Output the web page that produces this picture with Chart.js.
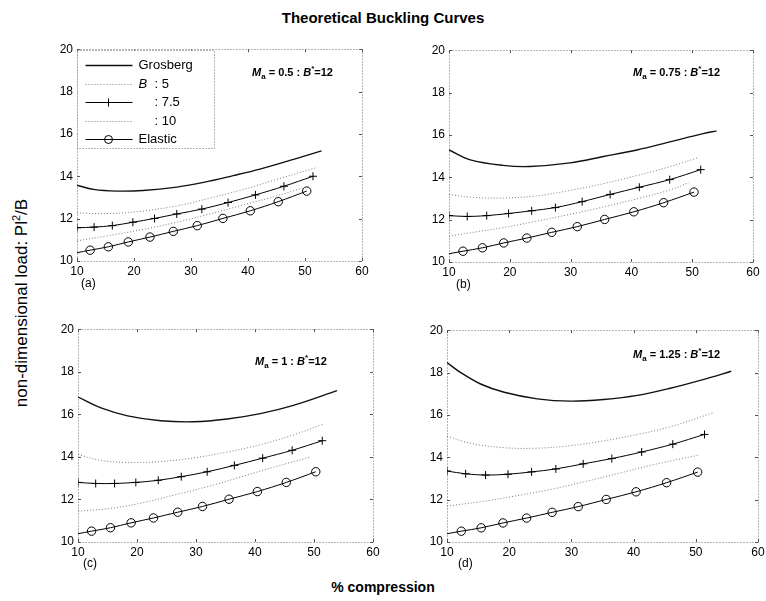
<!DOCTYPE html>
<html><head><meta charset="utf-8">
<script src="https://cdn.jsdelivr.net/npm/chart.js@4.4.1/dist/chart.umd.min.js"></script>
<style>
html,body{margin:0;padding:0;background:#fff}
body{width:766px;height:601px;position:relative;overflow:hidden;font-family:"Liberation Sans",Arial,Helvetica,sans-serif;color:#000}
canvas{position:absolute}
.txt{position:absolute;white-space:nowrap;line-height:1}
#title{left:0;width:766px;top:10px;text-align:center;font-size:15px;font-weight:bold}
#xtitle{left:0;width:766px;top:580px;text-align:center;font-size:14px;font-weight:bold}
#ytitle{left:-128px;width:300px;top:294px;height:18px;text-align:center;font-size:17px;transform:rotate(-90deg)}
#ytitle sup{font-size:11px;vertical-align:7px;line-height:0}
.ann{font-size:11px;font-weight:bold}
.ann sub{font-size:8px;vertical-align:-3px;line-height:0}
.ann sup{font-size:8px;vertical-align:5px;line-height:0}
.plab{font-size:12px}
</style></head>
<body>
<div id="title" class="txt">Theoretical Buckling Curves</div>
<div id="xtitle" class="txt">% compression</div>
<div id="ytitle" class="txt">non-dimensional load: Pl<sup>2</sup>/B</div>
<script>
// ---------- data ----------
const xTicks = [10, 20, 30, 40, 50, 60];
const yTicks = [10, 12, 14, 16, 18, 20];
const panelLabels = ['(a)', '(b)', '(c)', '(d)'];
const maValues = ['0.5', '0.75', '1', '1.25'];
const bStarValue = '12';
const seriesNames = ['Grosberg', '5', '7.5', '10', 'Elastic'];

// Elastic curve (same in all panels), first point has no marker
const elasticX = [10, 12.3, 15.5, 19.0, 22.8, 26.9, 31.1, 35.6, 40.4, 45.3, 50.3];
const elasticY = [10.39, 10.51, 10.67, 10.90, 11.13, 11.40, 11.67, 12.01, 12.37, 12.80, 13.30];

// B = 7.5 marker positions (shared x)
const b75X = [10, 13.0, 16.2, 19.8, 23.6, 27.5, 31.9, 36.5, 41.3, 46.3, 51.4];

// Panel (a) Ma = 0.5
const grosAX = [10, 12.9, 17.0, 21.6, 27.5, 32.2, 37.4, 42.1, 48.0, 52.9];
const grosAY = [13.58, 13.38, 13.30, 13.33, 13.49, 13.71, 14.03, 14.34, 14.80, 15.20];
const b5AX = [10, 15.8, 21.6, 27.5, 33.3, 39.2, 45.0, 51.8];
const b5AY = [12.27, 12.24, 12.36, 12.60, 12.97, 13.38, 13.85, 14.39];
const b75AY = [11.57, 11.60, 11.67, 11.83, 12.01, 12.22, 12.45, 12.76, 13.12, 13.53, 14.00];
const b10AX = [10, 15.8, 21.6, 27.5, 33.3, 39.2, 45.0, 50.6];
const b10AY = [10.95, 11.21, 11.49, 11.83, 12.22, 12.65, 13.07, 13.53];

// Panel (b) Ma = 0.75
const grosBX = [10, 13.5, 18.9, 23.3, 29.9, 35.4, 40.9, 46.3, 51.8, 54.0];
const grosBY = [15.29, 14.82, 14.56, 14.51, 14.68, 14.98, 15.29, 15.67, 16.06, 16.19];
const b5BX = [10, 13.5, 18.9, 24.4, 29.9, 35.4, 40.9, 46.3, 51.0];
const b5BY = [13.19, 13.06, 13.02, 13.12, 13.38, 13.70, 14.08, 14.50, 14.93];
const b75BY = [12.19, 12.15, 12.19, 12.29, 12.42, 12.57, 12.85, 13.19, 13.53, 13.89, 14.36];
const b10BX = [10, 13.5, 18.9, 24.4, 29.9, 35.4, 40.9, 46.3, 49.5];
const b10BY = [11.22, 11.38, 11.62, 11.93, 12.25, 12.60, 12.98, 13.40, 13.75];

// Panel (c) Ma = 1
const grosCX = [10, 13.9, 18.4, 24.0, 29.6, 35.3, 40.9, 46.5, 53.9];
const grosCY = [16.81, 16.30, 15.93, 15.70, 15.65, 15.78, 16.03, 16.42, 17.11];
const b5CX = [10, 13.9, 18.4, 24.0, 29.6, 35.3, 40.9, 46.5, 51.6];
const b5CY = [14.11, 13.83, 13.74, 13.78, 13.95, 14.23, 14.57, 15.03, 15.54];
const b75CY = [12.80, 12.75, 12.75, 12.80, 12.90, 13.07, 13.30, 13.60, 13.94, 14.31, 14.76];
const b10CX = [10, 15.6, 21.2, 26.8, 32.5, 38.1, 43.7, 49.4];
const b10CY = [11.45, 11.58, 11.86, 12.24, 12.64, 13.10, 13.56, 13.99];

// Panel (d) Ma = 1.25
const grosDX = [10, 12.2, 15.4, 19.2, 24.5, 29.9, 35.2, 40.6, 45.9, 51.3, 55.7];
const grosDY = [18.47, 18.00, 17.46, 17.07, 16.76, 16.65, 16.73, 16.92, 17.26, 17.68, 18.06];
const b5DX = [10, 13.8, 19.2, 24.6, 29.9, 35.3, 40.7, 46.0, 52.7];
const b5DY = [15.00, 14.66, 14.45, 14.43, 14.55, 14.78, 15.08, 15.45, 16.09];
const b75DY = [13.35, 13.22, 13.16, 13.20, 13.31, 13.45, 13.69, 13.94, 14.25, 14.62, 15.08];
const b10DX = [10, 16.5, 21.9, 27.3, 32.6, 38.0, 43.3, 50.3];
const b10DY = [11.69, 11.95, 12.22, 12.52, 12.88, 13.27, 13.66, 14.09];

// ---------- layout (positions / styles only) ----------
const FONT = '"Liberation Sans", Arial, Helvetica, sans-serif';
const YW = 34, XH = 22, PT = 8, PR = 10;
const geoms = [
  {L: 77, R: 362, T: 46, B: 261, annX: 252, annY: 67, labX: 90, labY: 277},
  {L: 449, R: 753, T: 47, B: 262, annX: 633, annY: 67, labX: 465, labY: 278},
  {L: 78, R: 373, T: 326, B: 542, annX: 255, annY: 356, labX: 92, labY: 557},
  {L: 447, R: 758, T: 327, B: 542, annX: 633, annY: 349, labX: 467, labY: 557}
];

const panels = [
  {gx: grosAX, gy: grosAY, b5x: b5AX, b5y: b5AY, b75y: b75AY, b10x: b10AX, b10y: b10AY},
  {gx: grosBX, gy: grosBY, b5x: b5BX, b5y: b5BY, b75y: b75BY, b10x: b10BX, b10y: b10BY},
  {gx: grosCX, gy: grosCY, b5x: b5CX, b5y: b5CY, b75y: b75CY, b10x: b10CX, b10y: b10CY},
  {gx: grosDX, gy: grosDY, b5x: b5DX, b5y: b5DY, b75y: b75DY, b10x: b10DX, b10y: b10DY}
];

const pts = (xs, ys) => xs.map((x, i) => ({x: x, y: ys[i]}));

const styles = {
  gros: {borderColor: '#111', borderWidth: 1.4, pointRadius: 0},
  dot: {borderColor: '#7a7a7a', borderWidth: 1, borderDash: [1, 2], pointRadius: 0},
  plus: {borderColor: '#000', borderWidth: 1, pointStyle: 'cross', pointRadius: 4, pointBorderWidth: 1, pointBorderColor: '#000'},
  circ: {borderColor: '#000', borderWidth: 1, pointStyle: 'circle', pointBorderWidth: 1, pointBorderColor: '#000', pointBackgroundColor: 'rgba(0,0,0,0)'}
};

const framePlugin = {
  id: 'frame',
  beforeDatasetsDraw(chart) {
    const {ctx, chartArea: a, scales} = chart;
    ctx.save();
    ctx.strokeStyle = '#6a6a6a';
    ctx.lineWidth = 1;
    ctx.setLineDash([1, 2]);
    ctx.strokeRect(Math.round(a.left) + 0.5, Math.round(a.top) + 0.5, Math.round(a.right - a.left), Math.round(a.bottom - a.top));
    ctx.setLineDash([]);
    ctx.strokeStyle = '#555';
    xTicks.forEach(v => {
      const px = Math.round(scales.x.getPixelForValue(v)) + 0.5;
      ctx.beginPath(); ctx.moveTo(px, a.bottom); ctx.lineTo(px, a.bottom - 3);
      ctx.moveTo(px, a.top); ctx.lineTo(px, a.top + 3); ctx.stroke();
    });
    yTicks.forEach(v => {
      const py = Math.round(scales.y.getPixelForValue(v)) + 0.5;
      ctx.beginPath(); ctx.moveTo(a.left, py); ctx.lineTo(a.left + 3, py);
      ctx.moveTo(a.right, py); ctx.lineTo(a.right - 3, py); ctx.stroke();
    });
    ctx.restore();
  }
};

const legendPlugin = {
  id: 'boxLegend',
  afterDraw(chart, args, opts) {
    if (!opts || !opts.show) return;
    const {ctx, chartArea: a} = chart;
    const x0 = Math.round(a.left) + 0.5, y0 = Math.round(a.top) + 1.5;
    ctx.save();
    ctx.fillStyle = '#fff';
    ctx.fillRect(x0, y0, 137, 98);
    ctx.strokeStyle = '#6a6a6a'; ctx.lineWidth = 1; ctx.setLineDash([1, 2]);
    ctx.strokeRect(x0, y0, 137, 98);
    const rows = [14, 33, 51, 70, 88];
    const kinds = ['gros', 'dot', 'plus', 'dot', 'circ'];
    rows.forEach((dy, i) => {
      const y = Math.round(y0 + dy) + 0.5;
      const st = styles[kinds[i]];
      ctx.setLineDash(st.borderDash || []);
      ctx.strokeStyle = st.borderColor; ctx.lineWidth = st.borderWidth;
      ctx.beginPath(); ctx.moveTo(x0 + 8, y); ctx.lineTo(x0 + 55, y); ctx.stroke();
      ctx.setLineDash([]);
      ctx.strokeStyle = '#000'; ctx.lineWidth = 1;
      if (kinds[i] === 'plus') {
        ctx.beginPath(); ctx.moveTo(x0 + 31 - 4, y); ctx.lineTo(x0 + 31 + 4, y);
        ctx.moveTo(x0 + 31, y - 4); ctx.lineTo(x0 + 31, y + 4); ctx.stroke();
      } else if (kinds[i] === 'circ') {
        ctx.beginPath(); ctx.arc(x0 + 31, y, 4, 0, Math.PI * 2); ctx.stroke();
      }
      ctx.fillStyle = '#000';
      ctx.textBaseline = 'middle';
      ctx.font = '13px ' + FONT;
      if (i === 0 || i === 4) {
        ctx.fillText(seriesNames[i], x0 + 61, y);
      } else {
        if (i === 1) { ctx.font = 'italic 13px ' + FONT; ctx.fillText('B', x0 + 61, y); ctx.font = '13px ' + FONT; }
        ctx.fillText(': ' + seriesNames[i], x0 + 77, y);
      }
    });
    ctx.restore();
  }
};

geoms.forEach((g, k) => {
  const p = panels[k];
  const cv = document.createElement('canvas');
  const w = g.R - g.L + YW + PR, h = g.B - g.T + PT + XH;
  cv.width = w; cv.height = h;
  cv.style.left = (g.L - YW) + 'px'; cv.style.top = (g.T - PT) + 'px';
  cv.style.width = w + 'px'; cv.style.height = h + 'px';
  document.body.appendChild(cv);

  const datasets = [
    Object.assign({label: seriesNames[0], data: pts(p.gx, p.gy)}, styles.gros),
    Object.assign({label: seriesNames[1], data: pts(p.b5x, p.b5y)}, styles.dot),
    Object.assign({label: seriesNames[2], data: pts(b75X, p.b75y)}, styles.plus),
    Object.assign({label: seriesNames[3], data: pts(p.b10x, p.b10y)}, styles.dot),
    Object.assign({label: seriesNames[4], data: pts(elasticX, elasticY),
      pointRadius: c => (c.dataIndex === 0 ? 0 : 4.2)}, styles.circ)
  ];

  new Chart(cv, {
    type: 'line',
    data: {datasets: datasets},
    plugins: [framePlugin, legendPlugin],
    options: {
      responsive: false, animation: false, devicePixelRatio: 1,
      layout: {padding: {top: PT, right: PR, left: 0, bottom: 0}},
      datasets: {line: {tension: 0.35, fill: false}},
      plugins: {legend: {display: false}, tooltip: {enabled: false}, title: {display: false},
        boxLegend: {show: k === 0}},
      scales: {
        x: {type: 'linear', min: xTicks[0], max: xTicks[xTicks.length - 1],
          afterBuildTicks: s => { s.ticks = xTicks.map(v => ({value: v})); },
          ticks: {color: '#000', font: {size: 12, family: FONT}, padding: 3, maxRotation: 0, autoSkip: false},
          grid: {display: false, drawTicks: false}, border: {display: false},
          afterFit: s => { s.height = XH; }},
        y: {type: 'linear', min: yTicks[0], max: yTicks[yTicks.length - 1],
          afterBuildTicks: s => { s.ticks = yTicks.map(v => ({value: v})); },
          ticks: {color: '#000', font: {size: 12, family: FONT}, padding: 4, autoSkip: false},
          grid: {display: false, drawTicks: false}, border: {display: false},
          afterFit: s => { s.width = YW; }}
      }
    }
  });

  const ann = document.createElement('div');
  ann.className = 'txt ann';
  ann.style.left = g.annX + 'px'; ann.style.top = g.annY + 'px';
  ann.innerHTML = '<i>M</i><sub>a</sub> = ' + maValues[k] + ' : <i>B</i><sup>*</sup>=' + bStarValue;
  document.body.appendChild(ann);

  const lab = document.createElement('div');
  lab.className = 'txt plab';
  lab.style.left = (g.labX - 9) + 'px'; lab.style.top = g.labY + 'px';
  lab.textContent = panelLabels[k];
  document.body.appendChild(lab);
});
</script>
</body></html>
